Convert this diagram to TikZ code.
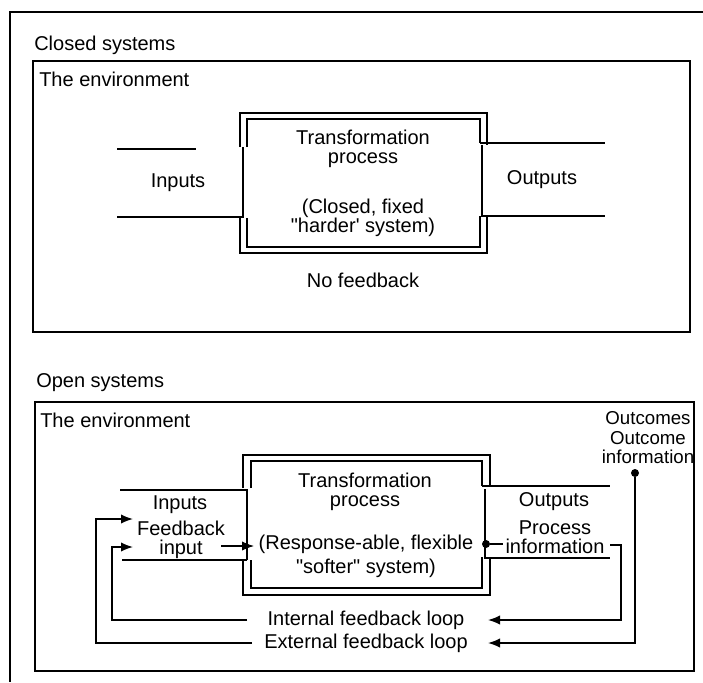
\documentclass[tikz,border=0pt]{standalone}
\usepackage{fontspec}
\setmainfont{Liberation Sans}[Ligatures=TeXOff]
\usetikzlibrary{arrows.meta}

\tikzset{
  every node/.style={font=\fontsize{15}{14.6}\selectfont, inner sep=0pt, align=center},
  heading/.style={anchor=west},
  envline/.style={line width=1.1pt},
  wall/.style={line width=1.4pt},
  pipe/.style={line width=0.8pt},
  loopline/.style={line width=1.1pt},
  fbarrow/.style={loopline, -{Latex[length=9pt,width=7pt]}},
  tapdot/.style={circle, fill, inner sep=0pt, minimum size=6pt},
}

\begin{document}
\begin{tikzpicture}[x=0.75pt, y=-0.75pt]
  \useasboundingbox (0,0) rectangle (703,682);
  % page frame, top and left edge only
  \draw[envline] (703,12) -- (10,12) -- (10,682);

  % ---- closed system ----
  \node[heading] (closedhead) at (34,45) {Closed systems};
  \draw[envline] (33,61) rectangle (690,332);
  \node[heading] (closedenv) at (39,79) {The environment};
  % double wall, broken where inputs and outputs pass
  \draw[wall] (240,147) -- (240,113) -- (487,113) -- (487,145);
  \draw[wall] (247,147) -- (247,119) -- (480,119) -- (480,143);
  \draw[wall] (240,218) -- (240,253) -- (487,253) -- (487,216);
  \draw[wall] (247,218) -- (247,247) -- (480,247) -- (480,216);
  % channels
  \draw[pipe] (117,149) -- (196,149);
  \draw[pipe] (117,217) -- (243,217) -- (243,147);
  \draw[pipe] (480,143) -- (605,143);
  \draw[pipe] (482,145) -- (482,216) -- (605,216);
  \node (closedtp) at (363,149) {Transformation\\process};
  \node (closedkind) at (363,218) {(Closed, fixed\\"harder' system)};
  \node (closedin) at (178,183) {Inputs};
  \node (closedout) at (542,180) {Outputs};
  \node (nofb) at (363,280) {No feedback};

  % ---- open system ----
  \node[heading] (openhead) at (36,383) {Open systems};
  \draw[envline] (35,402) rectangle (694,671);
  \node[heading] (openenv) at (40,420) {The environment};
  \node[font=\fontsize{14}{14.6}\selectfont] (outcome) at (648,438) {Outcomes\\Outcome\\information};
  \draw[wall] (243,488) -- (243,455) -- (490,455) -- (490,486);
  \draw[wall] (251,488) -- (251,461) -- (482,461) -- (482,486);
  \draw[wall] (243,560) -- (243,595) -- (490,595) -- (490,557);
  \draw[wall] (251,560) -- (251,588) -- (482,588) -- (482,557);
  \draw[pipe] (120,490) -- (247,490) -- (247,560);
  \draw[pipe] (122,560) -- (247,560);
  \draw[pipe] (482,486) -- (610,486);
  \draw[pipe] (485,489) -- (485,558) -- (610,558);
  \node (opentp) at (365,492) {Transformation\\process};
  \node (openkind) at (366,556) {(Response-able, flexible\\[3.4pt]"softer" system)};
  \node (openin) at (180,505) {Inputs};
  \node (fbin) at (181,540) {Feedback\\input};
  \node (openout) at (554,502) {Outputs};
  \node (procinfo) at (555,537) {Process\\information};
  \node (intloop) at (366,620) {Internal feedback loop};
  \node (extloop) at (366,643) {External feedback loop};

  % feedback taps and loops
  \node[tapdot] (outdot) at (635,473) {};
  \node[tapdot] (procdot) at (486,544) {};
  \coordinate (proctick) at (503,544);
  \coordinate (intstart) at (610,545);
  \coordinate (intbend) at (621,620);
  \coordinate (inttip) at (488,620);
  \coordinate (exttip) at (488,643);
  \coordinate (intback) at (247,620);
  \coordinate (intrise) at (112,547);
  \coordinate (intin) at (133,547);
  \coordinate (extback) at (252,643);
  \coordinate (extrise) at (96,519);
  \coordinate (extin) at (133,519);
  \coordinate (fbfrom) at (221,546);
  \coordinate (fbto) at (254,546);

  \draw[pipe] (procdot) -- (proctick);
  \draw[fbarrow] (intstart) -| (intbend) -- (inttip);
  \draw[fbarrow] (outdot) |- (exttip);
  \draw[fbarrow] (intback) -| (intrise) -- (intin);
  \draw[fbarrow] (extback) -| (extrise) -- (extin);
  \draw[fbarrow, line width=0.8pt] (fbfrom) -- (fbto);
\end{tikzpicture}
\end{document}
